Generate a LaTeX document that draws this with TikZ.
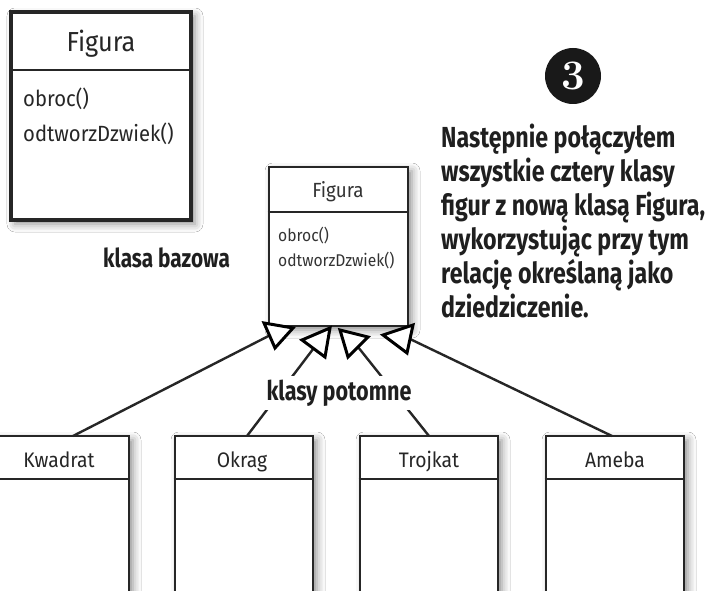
\documentclass[tikz,border=0pt]{standalone}
\usepackage{fontspec}
\usetikzlibrary{shadows.blur}
\newfontfamily\umlfont[FakeStretch=0.92]{Fira Sans}
\newfontfamily\notefont[FakeStretch=0.8]{Fira Sans}
\begin{document}
\begin{tikzpicture}[x=1pt,y=-1pt,
  classbox/.style={draw=black!85, fill=white, rectangle, inner sep=0pt,
    blur shadow={shadow xshift=4pt, shadow yshift=-4pt,
      shadow blur radius=8pt, shadow opacity=45}},
  bigbox/.style={classbox, line width=3.2pt},
  smallbox/.style={classbox, line width=2.6pt},
  divider/.style={draw=black!85, line width=2.4pt},
  bigname/.style={font=\umlfont\fontsize{27.5}{32}\selectfont, text=black!85, inner sep=0pt, anchor=base},
  bigop/.style={font=\umlfont\fontsize{22}{26}\selectfont, text=black!85, inner sep=0pt, anchor=base west},
  midname/.style={font=\umlfont\fontsize{20.5}{24}\selectfont, text=black!80, inner sep=0pt, anchor=base},
  midop/.style={font=\umlfont\fontsize{17}{20}\selectfont, text=black!80, inner sep=0pt, anchor=base west},
  childname/.style={font=\umlfont\fontsize{21}{25}\selectfont, text=black!85, inner sep=0pt, anchor=base},
  note/.style={font=\notefont\bfseries, text=black!88, inner sep=0pt},
  link/.style={draw=black!85, line width=2.4pt},
  head/.style={draw=black, fill=white, line width=3pt, line join=miter},
]
\useasboundingbox (0,0) rectangle (713,591);
\fill[white] (0,0) rectangle (713,591);
\clip (0,0) rectangle (713,591);

% base class shown alone
\node[bigbox, minimum width=180pt, minimum height=208pt] (figA) at (101,116) {};
\draw[divider] (figA.west |- 0,70) -- (figA.east |- 0,70);
\node[bigname] (figAname) at (101,52) {Figura};
\node[bigop] (figAop1) at (23,107) {obroc()};
\node[bigop] (figAop2) at (23,142) {odtworzDzwiek()};

% base class in the hierarchy
\node[smallbox, minimum width=139pt, minimum height=159pt] (figB) at (338.5,246.5) {};
\draw[divider, line width=2pt] (figB.west |- 0,212) -- (figB.east |- 0,212);
\node[midname] (figBname) at (338,198) {Figura};
\node[midop] (figBop1) at (278,242) {obroc()};
\node[midop] (figBop2) at (278,266) {odtworzDzwiek()};

% subclasses (cut by the page edges)
\node[smallbox, minimum width=149pt, minimum height=200pt] (kw) at (54.5,536) {};
\node[smallbox, minimum width=138pt, minimum height=200pt] (ok) at (244,536) {};
\node[smallbox, minimum width=138pt, minimum height=200pt] (tr) at (429,536) {};
\node[smallbox, minimum width=138pt, minimum height=200pt] (am) at (615,536) {};
\foreach \c in {kw,ok,tr,am}
  \draw[divider, line width=2pt] (\c.west |- 0,479) -- (\c.east |- 0,479);
\node[childname] (kwname) at (59,467) {Kwadrat};
\node[childname] (okname) at (242,467) {Okrag};
\node[childname] (trname) at (429,467) {Trojkat};
\node[childname] (amname) at (615,467) {Ameba};

% where the inheritance links leave the subclasses
\coordinate (kwT) at (73,436);
\coordinate (okT) at (247,436);
\coordinate (trT) at (429,436);
\coordinate (amT) at (612,436);

% hollow generalisation heads under the base class
\coordinate (h1a) at (264,323); \coordinate (h1b) at (293,328); \coordinate (h1c) at (275,348);
\coordinate (h2a) at (302,340); \coordinate (h2b) at (330,328); \coordinate (h2c) at (325,357);
\coordinate (h3a) at (340,330); \coordinate (h3b) at (368,337); \coordinate (h3c) at (348,357);
\coordinate (h4a) at (383,335); \coordinate (h4b) at (413,325); \coordinate (h4c) at (407,353);
\coordinate (b1) at (269.5,335.5);
\coordinate (b2) at (313.5,348.5);
\coordinate (b3) at (358,347);
\coordinate (b4) at (410,339);

\draw[link] (kwT) -- (b1);
\draw[link] (okT) -- (b2);
\draw[link] (trT) -- (b3);
\draw[link] (amT) -- (b4);

\draw[head] (h1a) -- (h1b) -- (h1c) -- cycle;
\draw[head] (h2a) -- (h2b) -- (h2c) -- cycle;
\draw[head] (h3a) -- (h3b) -- (h3c) -- cycle;
\draw[head] (h4a) -- (h4b) -- (h4c) -- cycle;

% annotations
\node[note, font=\notefont\bfseries\fontsize{27}{30}\selectfont, fill=white,
  inner xsep=4pt, inner ysep=4pt, anchor=base] (sub) at (339,400) {klasy potomne};
\node[note, font=\notefont\bfseries\fontsize{26}{30}\selectfont, anchor=base west] (base) at (103,267) {klasa bazowa};

\node[circle, fill=black!90, minimum size=56pt, inner sep=0pt] (step3) at (573,76) {};
\node[text=white, font=\bfseries\fontsize{42}{42}\selectfont, inner sep=0pt] (step3num) at (step3) {3};

\node[note, font=\notefont\bfseries\fontsize{29}{33.8}\selectfont, anchor=base west, align=left] (expl) at (441,148)
  {\begin{tabular}[t]{@{}l@{}}Następnie połączyłem\\ wszystkie cztery klasy\\ figur z nową klasą Figura,\\ wykorzystując przy tym\\ relację określaną jako\\ dziedziczenie.\end{tabular}};
\end{tikzpicture}
\end{document}
